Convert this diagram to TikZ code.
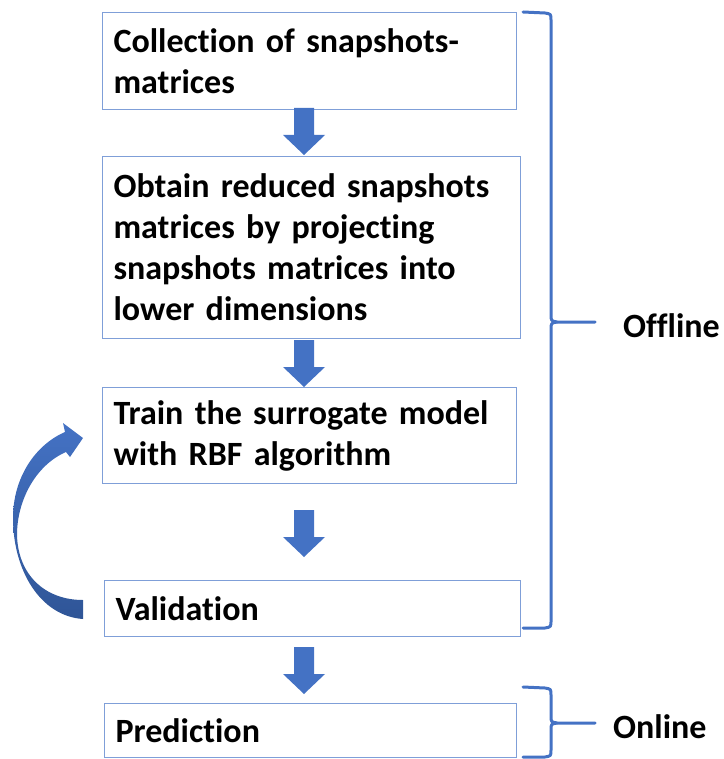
\documentclass[tikz,border=0pt]{standalone}
\usepackage{fontspec}
\setmainfont[Ligatures=NoCommon]{Carlito}
\definecolor{accent}{HTML}{4472C4}
\definecolor{accentdark}{HTML}{2F5597}
\definecolor{frame}{HTML}{7F9FD8}
\tikzset{
  x=1pt, y=-1pt,
  stepbox/.style={draw=frame, line width=1.2pt, rectangle, anchor=north west,
    inner xsep=11pt, inner ysep=0pt, align=left,
    font=\fontsize{34}{41}\selectfont\bfseries},
  blockarrow/.style={fill=accent, draw=none},
  bracestroke/.style={draw=accent, line width=3pt, line cap=round, line join=round},
  phase/.style={font=\fontsize{34}{40}\selectfont\bfseries, anchor=base west, inner sep=0pt},
}
\newcommand{\downarrowat}[2]{% centre x, top y
  \fill[blockarrow] (#1-10,#2) -- (#1+10,#2) -- (#1+10,#2+27) -- (#1+21,#2+27)
    -- (#1,#2+47) -- (#1-21,#2+27) -- (#1-10,#2+27) -- cycle;}
\begin{document}
\begin{tikzpicture}
\useasboundingbox (0,0) rectangle (723,759);

% process steps
\node[stepbox, minimum width=414pt, minimum height=97pt, text width=392pt] (collect) at (102,12)
  {Collection of snapshots-\\matrices};
\node[stepbox, minimum width=418pt, minimum height=182pt, text width=396pt] (reduce) at (102,156)
  {Obtain reduced snapshots\\matrices by projecting\\snapshots matrices into\\lower dimensions};
\node[stepbox, minimum width=414pt, minimum height=96pt, text width=392pt] (train) at (102,387)
  {Train the surrogate model\\with RBF algorithm};
\node[stepbox, minimum width=416pt, minimum height=56pt, text width=394pt] (valid) at (104,580)
  {Validation};
\node[stepbox, minimum width=412pt, minimum height=54pt, text width=390pt] (predict) at (104,703)
  {Prediction};

% block arrows between steps
\downarrowat{304}{108}
\downarrowat{304}{340}
\downarrowat{304}{510}
\downarrowat{304}{647}

% feedback loop from validation back to training
\coordinate (loopfrom) at (83,609);
\coordinate (loopto) at (83,438);
\shade[top color=accent, bottom color=accentdark, draw=none]
  (83,619) .. controls (40,616) and (13,570) .. (13,518)
  .. controls (13,478) and (35,445) .. (65,432) -- (63,423) -- (loopto)
  -- (70,457) -- (66,452) .. controls (36,465) and (17,500) .. (17,535)
  .. controls (18,575) and (45,600) .. (83,600) -- cycle;

% phase braces
\coordinate (offtop) at (523,12);
\coordinate (offbot) at (523,628);
\coordinate (offtip) at (595,322);
\draw[bracestroke] (offtop) -- (545,13) .. controls (551,14) .. (551,20) -- (551,314)
  .. controls (551,321) .. (557,322) -- (offtip);
\draw[bracestroke] (offtip) ++(-38,0) .. controls (551,323) .. (551,330) -- (551,620)
  .. controls (551,627) .. (545,628) -- (offbot);
\node[phase] (offline) at (623,337) {Offline};

\coordinate (ontop) at (523,687);
\coordinate (onbot) at (523,757);
\coordinate (ontip) at (595,723);
\draw[bracestroke] (ontop) -- (545,688) .. controls (551,689) .. (551,695) -- (551,716)
  .. controls (551,722) .. (557,723) -- (ontip);
\draw[bracestroke] (ontip) ++(-38,0) .. controls (551,724) .. (551,730) -- (551,750)
  .. controls (551,756) .. (545,757) -- (onbot);
\node[phase] (online) at (613,738) {Online};
\end{tikzpicture}
\end{document}
